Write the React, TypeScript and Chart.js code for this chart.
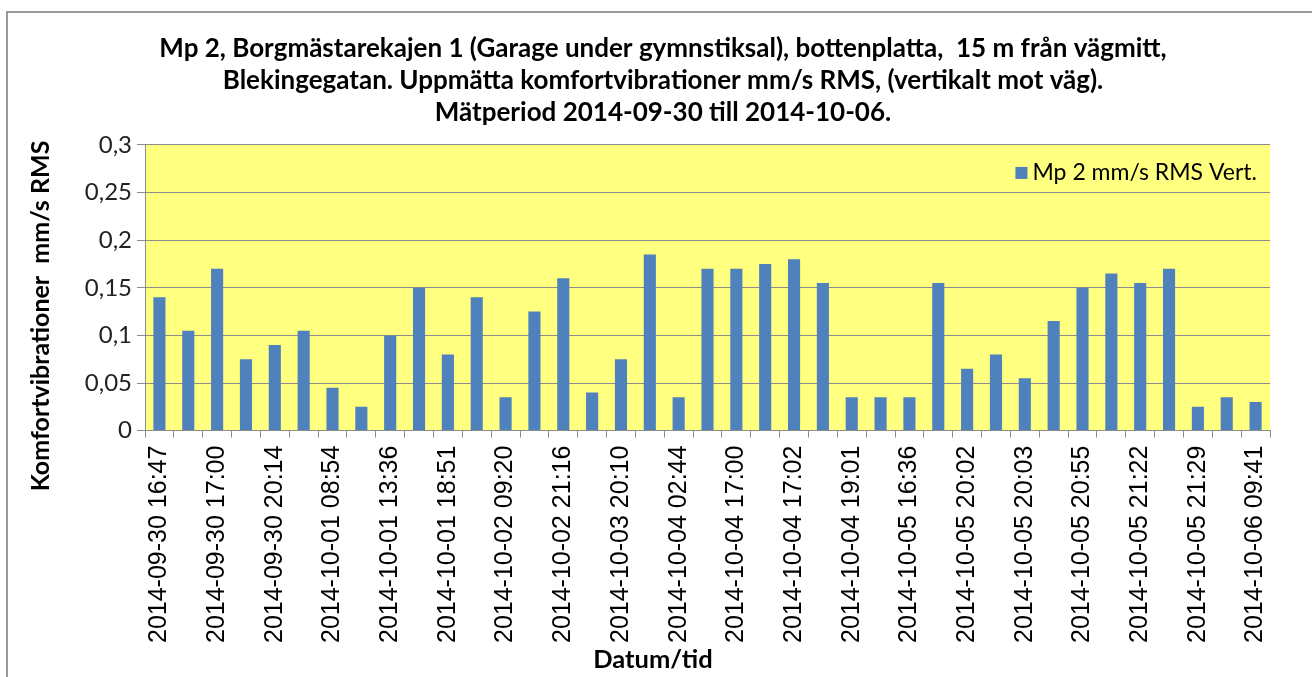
import React, { useEffect, useRef } from 'react';
import { Chart, registerables } from 'chart.js';

Chart.register(...registerables);

const titleLines = [
  'Mp 2, Borgmästarekajen 1 (Garage under gymnstiksal), bottenplatta,  15 m från vägmitt,',
  'Blekingegatan. Uppmätta komfortvibrationer mm/s RMS, (vertikalt mot väg).',
  'Mätperiod 2014-09-30 till 2014-10-06.',
];

const seriesName = 'Mp 2 mm/s RMS Vert.';
const yAxisTitle = 'Komfortvibrationer  mm/s RMS';
const xAxisTitle = 'Datum/tid';

// labels shown on every other category
const tickLabels = [
  '2014-09-30 16:47', '2014-09-30 17:00', '2014-09-30 20:14', '2014-10-01 08:54',
  '2014-10-01 13:36', '2014-10-01 18:51', '2014-10-02 09:20', '2014-10-02 21:16',
  '2014-10-03 20:10', '2014-10-04 02:44', '2014-10-04 17:00', '2014-10-04 17:02',
  '2014-10-04 19:01', '2014-10-05 16:36', '2014-10-05 20:02', '2014-10-05 20:03',
  '2014-10-05 20:55', '2014-10-05 21:22', '2014-10-05 21:29', '2014-10-06 09:41',
];

const values = [
  0.14, 0.105, 0.17, 0.075, 0.09, 0.105, 0.045, 0.025, 0.1, 0.15,
  0.08, 0.14, 0.035, 0.125, 0.16, 0.04, 0.075, 0.185, 0.035, 0.17,
  0.17, 0.175, 0.18, 0.155, 0.035, 0.035, 0.035, 0.155, 0.065, 0.08,
  0.055, 0.115, 0.15, 0.165, 0.155, 0.17, 0.025, 0.035, 0.03,
];

const categories = values.map((_, i) => (i % 2 === 0 ? tickLabels[i / 2] : ''));

const BAR_COLOR = '#4F81BD';

const plotBg = {
  id: 'plotBg',
  beforeDraw(chart: any) {
    const { ctx, chartArea: a } = chart;
    ctx.save();
    ctx.fillStyle = '#FFFF80';
    ctx.fillRect(a.left, a.top, a.right - a.left, a.bottom - a.top);
    ctx.restore();
  },
};

// axis titles and in-plot legend, placed like the original Excel chart
const extrasPlugin = {
  id: 'extras',
  afterDraw(chart: any) {
    const { ctx, chartArea: a } = chart;
    ctx.save();
    // x-axis title
    ctx.font = 'bold 25.5px Lato';
    ctx.fillStyle = '#000';
    ctx.textAlign = 'center';
    ctx.textBaseline = 'middle';
    ctx.fillText(xAxisTitle, 653, 660);
    // y-axis title
    ctx.save();
    ctx.translate(41, 316);
    ctx.rotate(-Math.PI / 2);
    ctx.font = 'bold 25px Lato';
    ctx.fillText(yAxisTitle, 0, 0);
    ctx.restore();
    // legend (inside plot, top right)
    const ly = a.top + 28;
    ctx.font = '23px Lato';
    ctx.textAlign = 'right';
    const textRight = a.right - 13;
    const w = ctx.measureText(seriesName).width;
    ctx.fillText(seriesName, textRight, ly);
    ctx.fillStyle = BAR_COLOR;
    const sz = 12;
    ctx.fillRect(textRight - w - 5 - sz, ly - sz / 2, sz, sz);
    ctx.restore();
  },
};

export default function App() {
  const ref = useRef<HTMLCanvasElement | null>(null);

  useEffect(() => {
    if (!ref.current) return;
    const chart = new Chart(ref.current, {
      type: 'bar',
      data: {
        labels: categories,
        datasets: [
          {
            label: seriesName,
            data: values,
            backgroundColor: BAR_COLOR,
            borderWidth: 0,
            categoryPercentage: 1,
            barPercentage: 0.42,
          },
        ],
      },
      options: {
        animation: false,
        responsive: false,
        maintainAspectRatio: false,
        layout: { padding: { top: 14, left: 56, right: 42, bottom: 26 } },
        plugins: {
          title: {
            display: true,
            text: titleLines,
            color: '#000',
            font: { family: 'Lato', size: 26, weight: 'bold', lineHeight: 1.23 },
            padding: { top: 19, bottom: 16 },
          },
          legend: { display: false },
          tooltip: { enabled: false },
        },
        scales: {
          x: {
            grid: {
              offset: true,
              drawOnChartArea: false,
              drawTicks: true,
              tickLength: 7,
              color: '#8c8c8c',
            },
            border: { display: true, color: '#8c8c8c' },
            ticks: {
              autoSkip: false,
              maxRotation: 90,
              minRotation: 90,
              color: '#000',
              padding: 8,
              font: { family: 'Liberation Sans', size: 25 },
            },
          },
          y: {
            min: 0,
            max: 0.3,
            afterFit: (scale: any) => {
              scale.width = 89;
            },
            ticks: {
              stepSize: 0.05,
              color: '#222',
              padding: 5,
              font: { family: 'Lato', size: 24 },
              callback: (v: any) => String(Number(Number(v).toFixed(2))).replace('.', ','),
            },
            grid: { color: '#8c8c8c', tickLength: 8 },
            border: { display: true, color: '#8c8c8c' },
          },
        },
      },
      plugins: [plotBg, extrasPlugin],
    });
    return () => chart.destroy();
  }, []);

  return (
    <div style={{ position: 'fixed', left: 0, top: 0, width: 1312, height: 677, background: '#fff', overflow: 'hidden' }}>
      <div
        style={{
          position: 'absolute',
          left: 6,
          top: 11,
          width: 1320,
          height: 700,
          border: '2px solid #9a9a9a',
          boxSizing: 'border-box',
        }}
      />
      <canvas ref={ref} width={1312} height={677} style={{ position: 'absolute', left: 0, top: 0 }} />
    </div>
  );
}
